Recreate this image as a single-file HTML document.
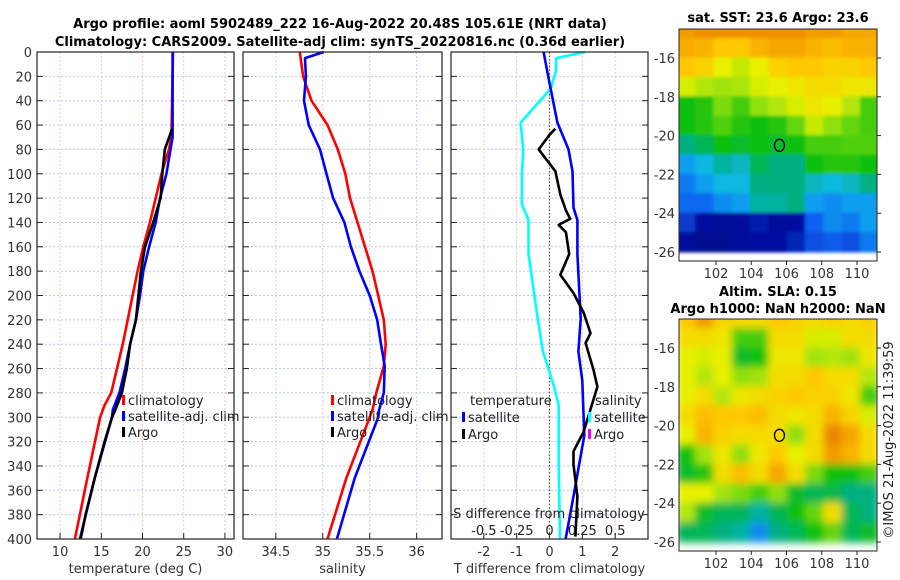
<!DOCTYPE html>
<html><head><meta charset="utf-8"><style>
body{margin:0;background:#fff;}
svg{display:block;font-family:"DejaVu Sans","Liberation Sans",sans-serif;}
</style></head><body>
<svg id="c" width="900" height="580" viewBox="0 0 900 580">
<defs>
<filter id="blurSla" x="-5%" y="-5%" width="110%" height="110%"><feGaussianBlur stdDeviation="4" edgeMode="duplicate"/></filter>
<filter id="blurSst" x="-5%" y="-5%" width="110%" height="110%"><feGaussianBlur stdDeviation="1.5" edgeMode="duplicate"/></filter>
</defs>
<text x="340" y="28" text-anchor="middle" font-size="13" font-weight="bold">Argo profile: aoml 5902489_222 16-Aug-2022 20.48S 105.61E (NRT data)</text>
<text x="340" y="46" text-anchor="middle" font-size="13" font-weight="bold">Climatology: CARS2009. Satellite-adj clim: synTS_20220816.nc (0.36d earlier)</text>
<text x="778" y="22" text-anchor="middle" font-size="13" font-weight="bold">sat. SST: 23.6 Argo: 23.6</text>
<text x="778" y="296" text-anchor="middle" font-size="13" font-weight="bold">Altim. SLA: 0.15</text>
<text x="778" y="313" text-anchor="middle" font-size="13" font-weight="bold">Argo h1000: NaN h2000: NaN</text>
<text transform="translate(893,440) rotate(-90)" text-anchor="middle" font-size="13" fill="#222">©IMOS 21-Aug-2022 11:39:59</text>
</svg>
<script>
// ---- data ----
const depthTicks=[0,20,40,60,80,100,120,140,160,180,200,220,240,260,280,300,320,340,360,380,400];
const tTicks=[10,15,20,25,30];
const sTicks=[34.5,35,35.5,36];
const dTicks=[-2,-1,0,1,2];
const dsTicks=[-0.5,-0.25,0,0.25,0.5];
const dsTickLabels=["-0.5","-0.25","0","0.25","0.5"];
const tClimDepth=[0,70,80,100,120,140,160,180,200,220,240,260,280,290,300,350,400];
const tClim=[23.7,23.5,23.2,22.3,21.6,20.9,20.1,19.4,18.8,18.2,17.6,16.9,16.2,15.4,14.85,13.3,11.8];
const tSatDepth=[0,70,100,121,140,160,180,200,220,240,260,280,294,300,350,400];
const tSat=[23.65,23.65,22.9,22.1,21.6,20.8,20.1,19.7,19.2,18.5,17.9,17.2,16.4,16.3,14.2,12.4];
const tArgoDepth=[63,80,100,120,140,160,180,200,220,240,260,280,294,300,320,350,380,400];
const tArgo=[23.6,22.7,22.4,22.2,21.3,20.3,19.8,19.5,19.2,18.5,18.1,17.5,16.7,16.3,15.4,14.2,13.1,12.5];
const sClimDepth=[0,20,40,60,80,100,120,140,160,180,200,220,240,258,280,294,300,350,400];
const sClim=[34.755,34.79,34.88,35.05,35.16,35.24,35.29,35.37,35.45,35.53,35.59,35.65,35.67,35.65,35.57,35.53,35.5,35.25,35.05];
const sSatDepth=[0,5,20,40,60,80,100,120,140,160,180,200,220,240,258,280,294,300,350,400];
const sSat=[35.01,34.81,34.82,34.8,34.85,34.97,35.04,35.11,35.23,35.3,35.39,35.5,35.58,35.62,35.66,35.65,35.6,35.59,35.34,35.15];
const dTSatDepth=[0,17,58,80,98,128,138,166,219,246,270,315,365,400];
const dTSat=[-0.18,-0.06,0.24,0.58,0.7,0.73,0.85,0.85,0.95,0.88,1.0,1.06,0.73,0.49];
const dTArgoDepth=[63,68,80,98,117,130,137,142,148,166,183,198,214,231,239,261,275,312,328,339,365,398];
const dTArgo=[0.18,0.0,-0.33,0.18,0.33,0.5,0.63,0.28,0.5,0.6,0.33,0.73,1.04,1.25,1.1,1.34,1.46,1.04,0.73,0.73,0.85,0.79];
const dSSatDepth=[0,5,15,30,58,80,100,125,138,166,219,246,273,290,342,400];
const dSSat=[0.27,0.05,0.05,0.01,-0.22,-0.2,-0.21,-0.21,-0.16,-0.16,-0.09,-0.05,0.03,0.07,0.07,0.08];
const mapLonTicks=[102,104,106,108,110];
const mapLatTicks=[-16,-18,-20,-22,-24,-26];
const mapLon0=99.8, mapLonStep=1.04; // cell grid origin (lon)
const mapLat0=-14.5, mapLatStep=-1.0;
const sstGrid=[
[.88,.90,.90,.90,.90,.90,.90,.88,.88,.86,.86],
[.85,.84,.80,.80,.84,.86,.86,.84,.82,.84,.84],
[.80,.78,.72,.68,.72,.78,.80,.80,.78,.78,.80],
[.70,.66,.64,.65,.70,.72,.74,.76,.76,.74,.74],
[.50,.52,.60,.55,.62,.66,.70,.74,.72,.66,.55],
[.50,.52,.56,.52,.50,.52,.58,.68,.62,.58,.55],
[.42,.45,.50,.48,.50,.48,.50,.55,.55,.56,.56],
[.32,.36,.40,.38,.45,.42,.42,.50,.52,.52,.50],
[.28,.32,.36,.36,.42,.42,.42,.38,.36,.38,.42],
[.26,.26,.30,.32,.40,.40,.42,.32,.30,.32,.32],
[.18,.10,.08,.08,.12,.08,.10,.25,.30,.28,.32],
[.08,.05,.05,.08,.10,.10,.14,.22,.24,.22,.28]];
const slaGrid=[
[.80,.88,.78,.76,.76,.80,.78,.76,.78,.76,.78],
[.76,.76,.74,.55,.55,.76,.76,.70,.70,.76,.76],
[.72,.70,.72,.48,.50,.74,.74,.64,.66,.64,.74],
[.72,.66,.72,.62,.64,.76,.76,.80,.76,.76,.66],
[.72,.76,.66,.74,.76,.78,.80,.78,.78,.74,.55],
[.76,.82,.80,.80,.82,.76,.74,.76,.84,.78,.70],
[.72,.84,.78,.76,.76,.76,.62,.76,.92,.86,.76],
[.50,.64,.74,.62,.74,.80,.72,.76,.88,.84,.76],
[.48,.52,.76,.82,.76,.86,.76,.60,.50,.50,.55],
[.72,.72,.64,.60,.55,.62,.48,.45,.46,.42,.42],
[.66,.48,.45,.45,.40,.45,.50,.58,.76,.45,.42],
[.45,.45,.42,.40,.30,.42,.45,.50,.58,.45,.48]];
const argoLon=105.6, argoLat=-20.5;

// ---- helpers ----
const NS="http://www.w3.org/2000/svg";
const svg=document.getElementById('c');
function mk(tag,attrs,parent){const e=document.createElementNS(NS,tag);for(const k in attrs)e.setAttribute(k,attrs[k]);(parent||svg).appendChild(e);return e;}
function lin(d0,d1,r0,r1){return v=>r0+(v-d0)*(r1-r0)/(d1-d0);}
const Y0=52,Y1=539;
const yD=lin(0,400,Y0,Y1);

function panel(name,x0,x1,dom,ticks,labels,xlabel,gridColor){
  const g=mk('g',{});
  
  
  const sx=lin(dom[0],dom[1],x0,x1);
  depthTicks.forEach(d=>{if(d>0&&d<400){const l=mk('line',{x1:x0,x2:x1,y1:yD(d),y2:yD(d),stroke:'#b8c4ec','stroke-width':1,'stroke-dasharray':'2,2'},g);}
    const t1=mk('line',{x1:x0,x2:x0+6,y1:yD(d),y2:yD(d),stroke:'#222'},g);
    const t2=mk('line',{x1:x1-6,x2:x1,y1:yD(d),y2:yD(d),stroke:'#222'},g);});
  ticks.forEach((t,i)=>{const X=sx(t);
    const l=mk('line',{x1:X,x2:X,y1:Y0,y2:Y1,stroke:gridColor,'stroke-width':1,'stroke-dasharray':'2,2'},g);
    const tk=mk('line',{x1:X,x2:X,y1:Y1-6,y2:Y1,stroke:'#222'},g);
    const tx=mk('text',{x:X,y:556,'text-anchor':'middle','font-size':13,fill:'#333'},g);tx.textContent=labels[i];});
  const xl=mk('text',{x:(x0+x1)/2,y:573,'text-anchor':'middle','font-size':13,fill:'#333'},g);xl.textContent=xlabel;
  return {g,sx};
}
function frame(x0,x1,g){const r=mk('rect',{x:x0,y:Y0,width:x1-x0,height:Y1-Y0,fill:'none',stroke:'#222','stroke-width':1.2},g);}
function line(g,sx,vals,depths,color,name,w){
  const pts=vals.map((v,i)=>sx(v).toFixed(1)+','+yD(depths[i]).toFixed(1)).join(' ');
  const p=mk('polyline',{points:pts,fill:'none',stroke:color,'stroke-width':w||2.6,'stroke-linejoin':'round'},g);
  
}
function legend(g,x,y,color,label,name){
  const r=mk('rect',{x:x,y:y-9,width:3,height:10,fill:color},g);
  const t=mk('text',{x:x+6,y:y+1,'font-size':13,fill:'#222'},g);t.textContent=label;
}

// y tick labels
depthTicks.forEach(d=>{const t=mk('text',{x:32,y:yD(d)+5,'text-anchor':'end','font-size':13,fill:'#333'});t.textContent=d;});

// Panel 1 temperature
const p1=panel('temperature-panel',37,234,[7.2,31.1],tTicks,tTicks.map(String),'temperature (deg C)','#f0c8b0');
line(p1.g,p1.sx,tClim,tClimDepth,'#f00','temp-climatology-line');
line(p1.g,p1.sx,tSat,tSatDepth,'#00f','temp-satellite-line');
line(p1.g,p1.sx,tArgo,tArgoDepth,'#000','temp-argo-line');
legend(p1.g,122,404,'#f00','climatology','legend-climatology');
legend(p1.g,122,420,'#00f','satellite-adj. clim','legend-satellite');
legend(p1.g,122,436,'#000','Argo','legend-argo');
frame(37,234,p1.g);

// Panel 2 salinity
const p2=panel('salinity-panel',243,442,[34.15,36.27],sTicks,["34.5","35","35.5","36"],'salinity','#c4cef0');
line(p2.g,p2.sx,sClim,sClimDepth,'#f00','sal-climatology-line');
line(p2.g,p2.sx,sSat,sSatDepth,'#00f','sal-satellite-line');
legend(p2.g,331,404,'#f00','climatology','legend-climatology');
legend(p2.g,331,420,'#00f','satellite-adj. clim','legend-satellite');
legend(p2.g,331,436,'#000','Argo','legend-argo');
frame(243,442,p2.g);

// Panel 3 differences
const p3=panel('difference-panel',451,648,[-3,3],dTicks,dTicks.map(String),'T difference from climatology','#f0c8b0');
const sS=lin(-0.75,0.75,451,648);
const zl=mk('line',{x1:p3.sx(0),x2:p3.sx(0),y1:Y0,y2:Y1,stroke:'#554','stroke-width':1.2,'stroke-dasharray':'1.5,2'},p3.g);
line(p3.g,sS,dSSat,dSSatDepth,'#0ff','sal-diff-satellite-line');
line(p3.g,p3.sx,dTSat,dTSatDepth,'#00f','temp-diff-satellite-line');
line(p3.g,p3.sx,dTArgo,dTArgoDepth,'#000','temp-diff-argo-line');
{const t=mk('text',{x:470,y:405,'font-size':13,fill:'#222'},p3.g);t.textContent='temperature';
 const s=mk('text',{x:595,y:405,'font-size':13,fill:'#222'},p3.g);s.textContent='salinity';}
legend(p3.g,462,421,'#00f','satellite','legend-temp-satellite');
legend(p3.g,462,438,'#000','Argo','legend-temp-argo');
legend(p3.g,588,421,'#0ff','satellite','legend-sal-satellite');
legend(p3.g,588,438,'#e0e','Argo','legend-sal-argo');
{const t=mk('text',{x:549,y:518,'text-anchor':'middle','font-size':13,fill:'#222'},p3.g);t.textContent='S difference from climatology';}
dsTicks.forEach((v,i)=>{const t=mk('text',{x:sS(v),y:535,'text-anchor':'middle','font-size':13,fill:'#222'},p3.g);t.textContent=dsTickLabels[i];});
frame(451,648,p3.g);

// maps
function cmap(v){
  const st=[[0,[0,0,128]],[0.1,[0,16,160]],[0.25,[16,96,240]],[0.35,[16,184,240]],[0.42,[0,176,128]],[0.5,[16,192,16]],[0.62,[144,224,16]],[0.72,[232,240,0]],[0.8,[255,200,0]],[0.9,[240,144,0]],[1,[220,90,0]]];
  for(let i=1;i<st.length;i++){if(v<=st[i][0]){const a=st[i-1],b=st[i],f=(v-a[0])/(b[0]-a[0]);return 'rgb('+a[1].map((c,j)=>Math.round(c+(b[1][j]-c)*f)).join(',')+')';}}
  return 'rgb(220,90,0)';
}
function map(name,grid,x0,x1,y0,y1,lat16y,lat26y,filt){
  const g=mk('g',{});
  const sx=lin(102,110,716,857), sy=lin(-16,-26,lat16y,lat26y);
  const cp=mk('clipPath',{id:name+'-clip'},g);mk('rect',{x:x0,y:y0,width:x1-x0,height:y1-y0},cp);
  const outer=mk('g',{'clip-path':'url(#'+name+'-clip)'},g);
  const cg=mk('g',{filter:'url(#'+filt+')'},outer);
  grid.forEach((row,r)=>row.forEach((v,c)=>{
    const lonA=mapLon0+c*mapLonStep, latA=mapLat0+r*mapLatStep;
    const X=sx(lonA)-0.5, Y=sy(latA-mapLatStep/2)-0.5;
    const e=mk('rect',{x:X.toFixed(1),y:Y.toFixed(1),width:(sx(lonA+mapLonStep)-sx(lonA)+1).toFixed(1),height:(sy(latA+mapLatStep/2)-sy(latA-mapLatStep/2)+1).toFixed(1),fill:cmap(v)},cg);
    
    
  }));
  const ci=mk('ellipse',{cx:sx(argoLon),cy:sy(argoLat),rx:5,ry:6,fill:'none',stroke:'#000','stroke-width':1.3},g);
  const fr=mk('rect',{x:x0,y:y0,width:x1-x0,height:y1-y0,fill:'none',stroke:'#222','stroke-width':1},g);
  mapLonTicks.forEach(l=>{const X=sx(l);mk('line',{x1:X,x2:X,y1:y1,y2:y1+4,stroke:'#222'},g);
    const t=mk('text',{x:X,y:y1+17,'text-anchor':'middle','font-size':13,fill:'#333'},g);t.textContent=l;});
  mapLatTicks.forEach(l=>{const Y=sy(l);mk('line',{x1:x1,x2:x1+4,y1:Y,y2:Y,stroke:'#222'},g);
    const t=mk('text',{x:x0-4,y:Y+5,'text-anchor':'end','font-size':13,fill:'#333'},g);t.textContent=l;});
}
map('sst-map',sstGrid,679,877,29,261,58,252,'blurSst');
map('sla-map',slaGrid,679,877,319,551,348,542,'blurSla');
</script>
</body></html>
